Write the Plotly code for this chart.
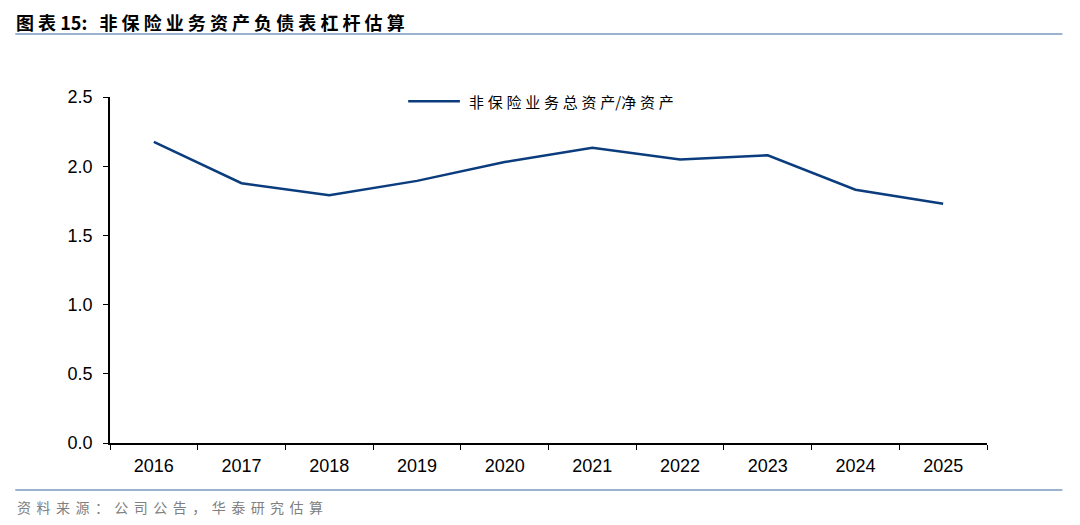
import plotly.graph_objects as go

years = ["2016", "2017", "2018", "2019", "2020", "2021", "2022", "2023", "2024", "2025"]
leverage = [2.175, 1.877, 1.79, 1.894, 2.03, 2.134, 2.048, 2.079, 1.83, 1.728]
series_name = "非保险业务总资产/净资产"
y_ticks = [0.0, 0.5, 1.0, 1.5, 2.0, 2.5]

LINE_COLOR = "#0B3C7D"
RULE_COLOR = "#9BB3D0"

fig = go.Figure()
fig.add_trace(
    go.Scatter(
        x=years,
        y=leverage,
        mode="lines",
        name=series_name,
        line=dict(color=LINE_COLOR, width=2.5),
        showlegend=False,
    )
)

# the page body has an 8px margin, so the figure is sized to fit inside it
fig.update_layout(
    width=1072,
    height=517,
    margin=dict(l=102, r=93, t=89, b=82),
    paper_bgcolor="white",
    plot_bgcolor="white",
    font=dict(family="Liberation Sans, Arial, Noto Sans CJK SC", size=18, color="#000000"),
    xaxis=dict(
        type="category",
        range=[-0.5, len(years) - 0.5],
        showline=True,
        linecolor="#000000",
        linewidth=1.5,
        ticks="outside",
        tickson="boundaries",
        ticklen=5,
        tickcolor="#000000",
        showgrid=False,
        ticklabelstandoff=6,
        tickfont=dict(size=18),
    ),
    yaxis=dict(
        range=[0, 2.5],
        tickvals=y_ticks,
        ticktext=[f"{v:.1f}" for v in y_ticks],
        showline=True,
        linecolor="#000000",
        linewidth=1.5,
        ticks="outside",
        ticklen=5,
        tickcolor="#000000",
        showgrid=False,
        zeroline=False,
        ticklabelstandoff=7,
        tickfont=dict(size=18),
    ),
)

# legend drawn by hand so the sample line is as long as in the report
fig.add_shape(
    type="line", xref="paper", yref="paper",
    x0=0.34, x1=0.399, y0=0.988, y1=0.988,
    line=dict(color=LINE_COLOR, width=2.5),
)
fig.add_annotation(
    text="\u2005".join(series_name).replace("\u2005/\u2005", "/"),
    xref="paper", yref="paper",
    x=0.407, y=0.988, xanchor="left", yanchor="middle",
    showarrow=False,
    font=dict(family="Noto Sans CJK SC", size=15, color="#000000"),
)

# title and source, with the thin rules the report uses
fig.add_annotation(
    text="<b>图 表 15:   非 保 险 业 务 资 产 负 债 表 杠 杆 估 算</b>",
    xref="paper", yref="paper",
    x=-0.108, y=1.217, xanchor="left", yanchor="middle",
    showarrow=False,
    borderpad=0,
    font=dict(family="Noto Sans CJK SC", size=18, color="#000000"),
)
fig.add_shape(
    type="line", xref="paper", yref="paper",
    x0=-0.108, x1=1.086, y0=1.182, y1=1.182,
    line=dict(color=RULE_COLOR, width=2),
)
fig.add_shape(
    type="line", xref="paper", yref="paper",
    x0=-0.108, x1=1.086, y0=-0.136, y1=-0.136,
    line=dict(color=RULE_COLOR, width=2),
)
gap = "\u00a0\u2006"
fig.add_annotation(
    text=gap.join("资料来源：") + gap + gap.join("公司公告，华泰研究估算"),
    xref="paper", yref="paper",
    x=-0.108, y=-0.15, xanchor="left", yanchor="top",
    showarrow=False,
    font=dict(family="Noto Sans CJK SC", size=14, color="#808080"),
)

fig.write_html("out.html")
